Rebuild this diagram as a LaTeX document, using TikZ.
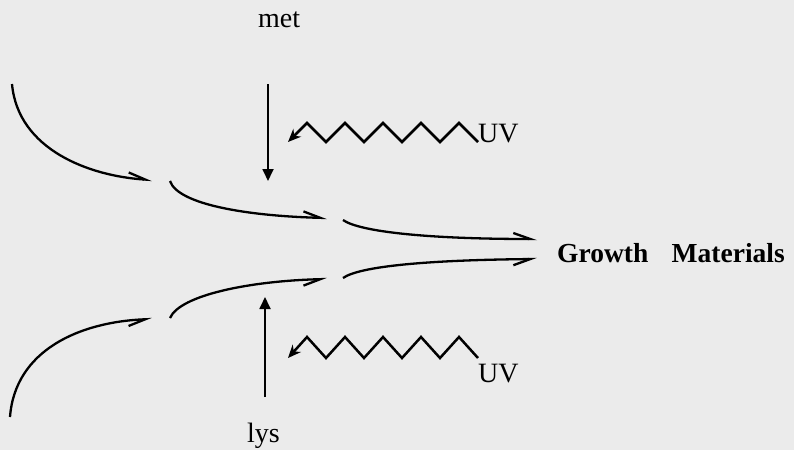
\documentclass[tikz,border=0pt]{standalone}
\usepackage{fontspec}
\setmainfont{Liberation Serif}
\usetikzlibrary{arrows.meta,positioning}

\begin{document}
\begin{tikzpicture}[x=1pt,y=-1pt,>=Latex]
  \tikzstyle{lbl}=[inner sep=0pt,anchor=base west,font=\fontsize{28}{32}\selectfont]
  \tikzstyle{flow}=[line width=2.3pt]
  \tikzstyle{upflow}=[flow,-{Straight Barb[left,length=17pt,width=12pt]}]
  \tikzstyle{lowflow}=[flow,-{Straight Barb[right,length=17pt,width=12pt]}]
  \tikzstyle{feed}=[line width=1.8pt,-{Triangle[length=12pt,width=11pt]}]
  \tikzstyle{uvwave}=[line width=2.5pt,line join=miter,-{Stealth[length=13pt,width=11pt]}]
  \fill[black!8] (0,0) rectangle (794,450);
  \useasboundingbox (0,0) rectangle (794,450);
  % labels
  \node[lbl] (met) at (258,27) {met};
  \node[lbl] (lys) at (247,442) {lys};
  \node[lbl,font=\fontsize{27.5}{32}\selectfont\bfseries] (gm) at (557,262) {Growth\hspace{0.6em} Materials};
  % curve ends
  \coordinate (inT) at (12,84);   \coordinate (inTe) at (152,180);
  \coordinate (midT) at (170,181); \coordinate (midTe) at (327,218);
  \coordinate (outT) at (343,220); \coordinate (outTe) at (537,239);
  \coordinate (inB) at (10,417);  \coordinate (inBe) at (152,319);
  \coordinate (midB) at (170,318); \coordinate (midBe) at (327,279);
  \coordinate (outB) at (343,278); \coordinate (outBe) at (537,259);
  % upper branch
  \draw[upflow] (inT) .. controls (18,150) and (90,176) .. (inTe);
  \draw[upflow] (midT) .. controls (178,205) and (250,216) .. (midTe);
  \draw[upflow] (outT) .. controls (360,232) and (430,239) .. (outTe);
  % lower branch
  \draw[lowflow] (inB) .. controls (15,350) and (80,322) .. (inBe);
  \draw[lowflow] (midB) .. controls (180,295) and (250,281) .. (midBe);
  \draw[lowflow] (outB) .. controls (360,266) and (430,260) .. (outBe);
  % met and lys
  \coordinate (metA) at (268,84);  \coordinate (metB) at (268,181);
  \coordinate (lysA) at (265,397); \coordinate (lysB) at (265,297);
  \draw[feed] (metA) -- (metB);
  \draw[feed] (lysA) -- (lysB);
  % UV
  \coordinate (uvT) at (478,142);
  \coordinate (uvB) at (478,358);
  \draw[uvwave] (uvT) \foreach \i in {1,...,5} {-- ++(-19,-19) -- ++(-19,19)};
  \draw[uvwave] (uvB) \foreach \i in {1,...,5} {-- ++(-19,-21) -- ++(-19,21)};
  \node[lbl] (uvt) at (uvT) {UV};
  \node[lbl] (uvb) at (478,382) {UV};
\end{tikzpicture}
\end{document}
